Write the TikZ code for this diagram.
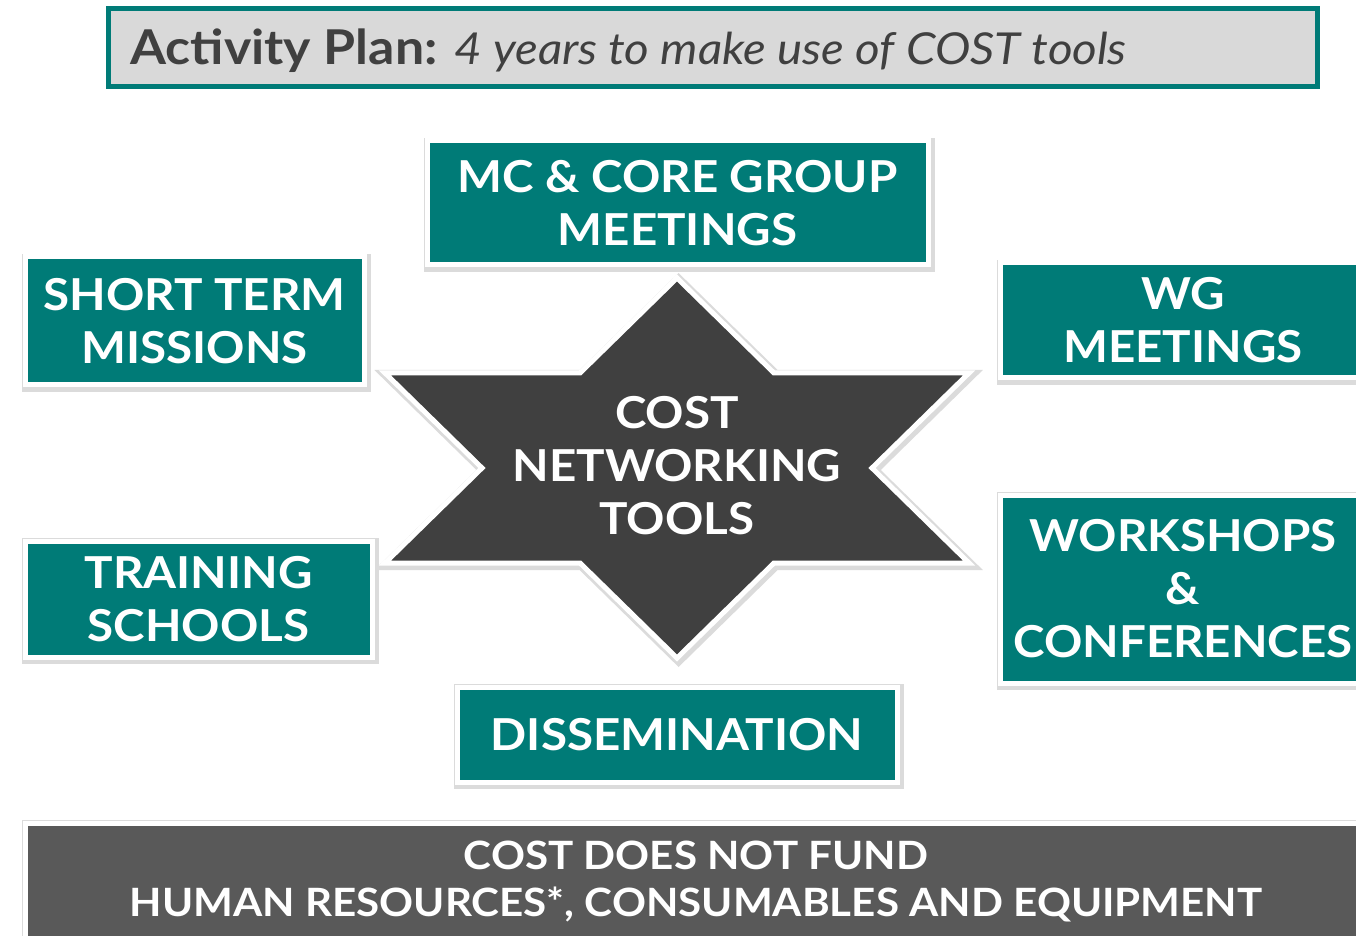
\documentclass[tikz,border=0pt]{standalone}
\usepackage{fontspec}
\setmainfont{Lato}[FakeStretch=1.08]
\definecolor{costteal}{HTML}{007B77}
\definecolor{titlegrey}{HTML}{D9D9D9}
\definecolor{darktext}{HTML}{404040}
\definecolor{stargrey}{HTML}{404040}
\definecolor{bannergrey}{HTML}{595959}
\begin{document}
\begin{tikzpicture}[x=0.5pt,y=-0.5pt]
  % Define styles for nodes
  \tikzstyle{glow} = [preaction={draw=black!14, line width=5pt,
    transform canvas={shift={(0.8pt,-1pt)}}}]
  \tikzstyle{tool} = [rectangle, glow, draw=white, line width=2.5pt, fill=costteal,
  text=white, align=center, inner sep=0pt,
  font=\fontsize{22}{26.5}\selectfont\bfseries]
  \tikzstyle{banner} = [rectangle, glow, draw=white, line width=2.5pt, fill=bannergrey,
  text=white, align=center, inner sep=0pt,
  font=\fontsize{19.5}{23.5}\selectfont\bfseries]

  \useasboundingbox (0,0) rectangle (1356,936);

  % Title bar
  \node[rectangle, draw=costteal, line width=2.5pt, fill=titlegrey,
  minimum width=604.5pt, minimum height=39pt] (title) at (712.5,48) {};
  \node[anchor=base west, text=darktext, inner sep=0pt] (titletext) at (130,65)
  {\fontsize{24}{30}\selectfont\bfseries Activity Plan:
    \fontsize{22}{26}\selectfont\mdseries\itshape 4 years to make use of COST tools};

  % Star in the middle
  \filldraw[glow, fill=stargrey, draw=white, line width=2.5pt]
  (677,278) -- (774,373) -- (969,373) -- (872,468) -- (969,563) -- (774,563)
  -- (677,658) -- (580,563) -- (385,563) -- (482,468) -- (385,373) -- (580,373)
  -- cycle;
  \node[text=white, align=center, font=\fontsize{22}{26.5}\selectfont\bfseries]
  (tools) at (677,466) {COST\\NETWORKING\\TOOLS};

  % The networking tools
  \node[tool, minimum width=250.5pt, minimum height=62pt] (mc) at (677.5,203)
  {MC \& CORE GROUP\\MEETINGS};
  \node[tool, minimum width=169.5pt, minimum height=64pt] (stm) at (194.5,321)
  {SHORT TERM\\MISSIONS};
  \node[tool, minimum width=183pt, minimum height=57.5pt] (wg) at (1183,320.5)
  {WG\\MEETINGS};
  \node[tool, minimum width=173.5pt, minimum height=58pt] (ts) at (198.5,599)
  {TRAINING\\SCHOOLS};
  \node[tool, minimum width=183pt, minimum height=94pt] (wsc) at (1183,589)
  {WORKSHOPS\\\&\\CONFERENCES};
  \node[tool, minimum width=220pt, minimum height=47.5pt] (dis) at (677,734.5)
  {DISSEMINATION};

  % Banner at bottom
  \node[banner, minimum width=671pt, minimum height=58.5pt] (funding) at (696,881.5)
  {COST DOES NOT FUND\\HUMAN RESOURCES*, CONSUMABLES AND EQUIPMENT};
\end{tikzpicture}
\end{document}
